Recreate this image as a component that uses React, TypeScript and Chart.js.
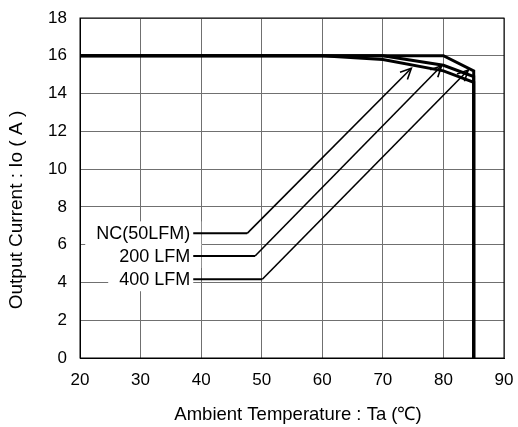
import React, { useEffect, useRef } from "react";
import { Chart, registerables } from "chart.js";

Chart.register(...registerables);

// ---- data ----
const tempsNC = [20, 60, 70, 80, 85, 85];
const currentNC = [16, 16, 15.8, 15.2, 14.6, 0];
const temps200 = [20, 70, 80, 85, 85];
const current200 = [16, 16, 15.5, 14.9, 0];
const temps400 = [20, 80, 85, 85];
const current400 = [16, 16, 15.2, 0];

const xTicks = [20, 30, 40, 50, 60, 70, 80, 90];
const yTicks = [0, 2, 4, 6, 8, 10, 12, 14, 16, 18];

const labelNames = ["NC(50LFM)", "200 LFM", "400 LFM"];
const labelTextX = [38.2, 38.2, 38.2];
const labelY = [6.6, 5.4, 4.17];
const elbowX = [47.6, 48.9, 50.1];
const arrowTipX = [74.7, 79.7, 84.1];
const arrowTipY = [15.34, 15.47, 15.25];

const xTitle = "Ambient Temperature : Ta (\u2103)";
const yTitle = "Output Current : Io ( A )";

// ---- style ----
const FONT = '"Liberation Sans", Arial, Helvetica, sans-serif';
const boxPadLeft = [11, 11, 11];
const boxPadRight = [11, 11, 3];

const toPts = (xs: number[], ys: number[]) => xs.map((x, i) => ({ x, y: ys[i] }));

const annotPlugin = {
  id: "annot",
  beforeDatasetsDraw(chart: any) {
    const { ctx, chartArea, scales } = chart;
    const xs = scales.x, ys = scales.y;
    ctx.save();
    ctx.font = `18px ${FONT}`;
    ctx.fillStyle = "#fff";
    labelNames.forEach((name, i) => {
      const w = ctx.measureText(name).width;
      const right = xs.getPixelForValue(labelTextX[i]);
      const cy = ys.getPixelForValue(labelY[i]);
      ctx.fillRect(right - w - boxPadLeft[i], cy - 12, w + boxPadLeft[i] + boxPadRight[i], 24);
    });
    ctx.strokeStyle = "#000";
    ctx.lineWidth = 1;
    ctx.strokeRect(chartArea.left, chartArea.top, chartArea.right - chartArea.left, chartArea.bottom - chartArea.top);
    ctx.restore();
  },
  afterDatasetsDraw(chart: any) {
    const { ctx, scales } = chart;
    const xs = scales.x, ys = scales.y;
    ctx.save();
    ctx.strokeStyle = "#000";
    ctx.fillStyle = "#000";
    labelNames.forEach((name, i) => {
      const tx = xs.getPixelForValue(labelTextX[i]);
      const ly = ys.getPixelForValue(labelY[i]);
      const ex = xs.getPixelForValue(elbowX[i]);
      const ax = xs.getPixelForValue(arrowTipX[i]);
      const ay = ys.getPixelForValue(arrowTipY[i]);
      ctx.lineWidth = 2;
      ctx.beginPath();
      ctx.moveTo(tx + 3, ly);
      ctx.lineTo(ex, ly);
      ctx.stroke();
      ctx.lineWidth = 1.6;
      ctx.beginPath();
      ctx.moveTo(ex, ly);
      ctx.lineTo(ax, ay);
      ctx.stroke();
      const ang = Math.atan2(ay - ly, ax - ex);
      const L = 12, spread = 0.45;
      ctx.beginPath();
      ctx.moveTo(ax - L * Math.cos(ang - spread), ay - L * Math.sin(ang - spread));
      ctx.lineTo(ax, ay);
      ctx.lineTo(ax - L * Math.cos(ang + spread), ay - L * Math.sin(ang + spread));
      ctx.stroke();
      ctx.font = `18px ${FONT}`;
      ctx.textAlign = "right";
      ctx.textBaseline = "middle";
      ctx.fillText(name, tx, ly + 1);
    });
    ctx.restore();
  },
  afterDraw(chart: any) {
    const { ctx } = chart;
    ctx.save();
    ctx.fillStyle = "#000";
    ctx.font = `18.5px ${FONT}`;
    ctx.textAlign = "center";
    ctx.textBaseline = "alphabetic";
    ctx.fillText(xTitle, 298, 420);
    ctx.font = `19px ${FONT}`;
    ctx.translate(17, 210);
    ctx.rotate(-Math.PI / 2);
    ctx.textBaseline = "middle";
    ctx.fillText(yTitle, 0, 0);
    ctx.restore();
  },
};

export default function App() {
  const ref = useRef<HTMLCanvasElement | null>(null);
  useEffect(() => {
    if (!ref.current) return;
    const common = { borderColor: "#000", borderWidth: 3, pointRadius: 0, tension: 0, fill: false };
    const chart = new Chart(ref.current, {
      type: "line",
      data: {
        datasets: [
          { label: "NC(50LFM)", data: toPts(tempsNC, currentNC), ...common },
          { label: "200 LFM", data: toPts(temps200, current200), ...common },
          { label: "400 LFM", data: toPts(temps400, current400), ...common },
        ],
      },
      options: {
        animation: false,
        responsive: false,
        layout: { padding: { top: 18, right: 14, left: 0, bottom: 0 } },
        plugins: { legend: { display: false }, tooltip: { enabled: false } },
        scales: {
          x: {
            type: "linear",
            min: 20,
            max: 90,
            afterFit: (s: any) => { s.height = 69; s.paddingLeft = 0; s.paddingRight = 0; },
            afterBuildTicks: (s: any) => { s.ticks = xTicks.map((v) => ({ value: v })); },
            ticks: { color: "#000", font: { size: 17, family: FONT }, padding: 12, maxRotation: 0 },
            grid: { color: "#707070", lineWidth: 1, drawTicks: false },
            border: { color: "#000", width: 1 },
          },
          y: {
            type: "linear",
            min: 0,
            max: 18,
            afterFit: (s: any) => { s.width = 80; s.paddingTop = 0; s.paddingBottom = 0; },
            afterBuildTicks: (s: any) => { s.ticks = yTicks.map((v) => ({ value: v })); },
            ticks: { color: "#000", font: { size: 17, family: FONT }, padding: 13 },
            grid: { color: "#707070", lineWidth: 1, drawTicks: false },
            border: { color: "#000", width: 1 },
          },
        },
      },
      plugins: [annotPlugin],
    });
    return () => chart.destroy();
  }, []);
  return (
    <div style={{ position: "absolute", left: 0, top: 0, width: 518, height: 427, background: "#fff" }}>
      <canvas ref={ref} width={518} height={427} style={{ display: "block" }} />
    </div>
  );
}
